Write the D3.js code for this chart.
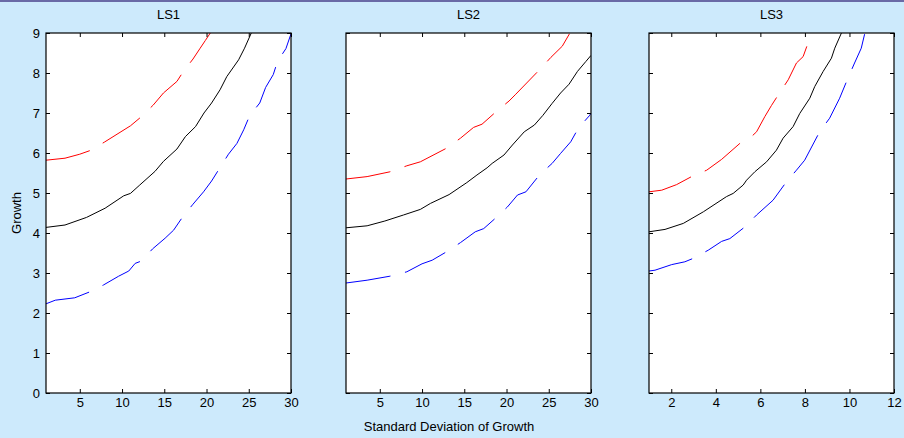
<!DOCTYPE html>
<html>
<head>
<meta charset="utf-8">
<script src="https://cdn.jsdelivr.net/npm/d3@7"></script>
<style>
  body { margin: 0; background: #cdeafc; }
  svg { display: block; font-family: "Liberation Sans", Arial, sans-serif; }
</style>
</head>
<body>
<svg id="chart" width="904" height="438"></svg>
<script>
// panel titles and x tick values
var titles = ['LS1', 'LS2', 'LS3'];
var xTicks = [[5, 10, 15, 20, 25, 30], [5, 10, 15, 20, 25, 30], [2, 4, 6, 8, 10, 12]];
var xDomains = [[1, 30], [1, 30], [1, 12]];
var yTicks = [0, 1, 2, 3, 4, 5, 6, 7, 8, 9];

// LS1: [std dev, growth]
var ls1Mid = [[1, 4.14], [3.25, 4.2], [5.8, 4.39], [8, 4.62], [10.2, 4.93], [11, 4.99], [12.1, 5.2], [13.9, 5.54], [14.9, 5.79], [16.5, 6.1], [17.5, 6.41], [18.7, 6.66], [19.7, 7.0], [20.6, 7.25], [21.6, 7.58], [22.4, 7.91], [23.8, 8.33], [24.5, 8.62], [25.3, 9.0]];
var ls1Upper = [[1, 5.82], [3.25, 5.87], [5, 5.97], [6.2, 6.06], [7.9, 6.27], [11, 6.68], [12.3, 6.91], [13.7, 7.2], [14.9, 7.5], [16.5, 7.79], [17.2, 8.02], [18.4, 8.35], [19.25, 8.62], [19.85, 8.81], [20.45, 9.0]];
var ls1Lower = [[1, 2.23], [2.1, 2.32], [4.4, 2.38], [6.2, 2.53], [7.8, 2.7], [9.6, 2.92], [10.8, 3.05], [11.55, 3.24], [12.3, 3.3], [13.6, 3.6], [15.1, 3.87], [16.1, 4.07], [17.2, 4.41], [18.4, 4.72], [19.65, 5.03], [20.6, 5.3], [21.55, 5.62], [22.6, 5.97], [23.6, 6.24], [24.4, 6.58], [25.1, 6.93], [26.3, 7.25], [27, 7.64], [27.9, 7.96], [28.4, 8.29], [29.4, 8.61], [30, 8.98]];

// LS2
var ls2Mid = [[1, 4.13], [3.5, 4.18], [5.6, 4.3], [7.8, 4.45], [9.8, 4.59], [11, 4.74], [13.2, 4.96], [15.3, 5.26], [16.5, 5.45], [17.7, 5.63], [18.3, 5.74], [19.7, 5.95], [20.7, 6.2], [22.1, 6.53], [23.3, 6.7], [24.3, 6.94], [25.4, 7.24], [26.4, 7.5], [27.4, 7.72], [28.4, 8.04], [29.4, 8.29], [30, 8.44]];
var ls2Upper = [[1, 5.35], [3.5, 5.41], [6.2, 5.53], [8.2, 5.68], [9.8, 5.78], [12.9, 6.12], [14.55, 6.37], [16.1, 6.64], [17.1, 6.72], [18.7, 7.02], [20.3, 7.3], [21.1, 7.47], [23.9, 8.08], [25.25, 8.39], [26.6, 8.67], [27.45, 8.98]];
var ls2Lower = [[1, 2.75], [3.5, 2.82], [6.2, 2.92], [8.2, 3.03], [10, 3.23], [11.2, 3.32], [12.9, 3.53], [14.55, 3.76], [16.3, 4.03], [17.3, 4.11], [18.8, 4.39], [20.1, 4.65], [21.3, 4.95], [22.3, 5.03], [23.9, 5.45], [25.4, 5.74], [26.4, 5.99], [27.6, 6.28], [28.5, 6.62], [29.8, 6.93], [30, 6.99]];

// LS3
var ls3Mid = [[1, 4.03], [1.72, 4.09], [2.54, 4.24], [3.44, 4.53], [4.48, 4.91], [4.78, 4.99], [5.23, 5.2], [5.38, 5.32], [5.75, 5.53], [6.28, 5.78], [6.72, 6.07], [7.02, 6.37], [7.47, 6.66], [7.77, 6.99], [8.22, 7.37], [8.44, 7.66], [8.82, 8.04], [9.19, 8.37], [9.34, 8.62], [9.64, 9.0]];
var ls3Upper = [[1, 5.03], [1.57, 5.07], [2.24, 5.21], [2.91, 5.41], [3.59, 5.57], [4.26, 5.84], [5.08, 6.24], [5.6, 6.41], [5.83, 6.53], [6.2, 6.91], [6.5, 7.19], [6.8, 7.45], [7.25, 7.83], [7.62, 8.25], [7.92, 8.41], [8.14, 8.75]];
var ls3Lower = [[1, 3.05], [1.27, 3.07], [2.02, 3.21], [2.61, 3.28], [2.96, 3.36], [3.66, 3.57], [4.26, 3.79], [4.63, 3.86], [5.3, 4.15], [5.83, 4.45], [6.57, 4.82], [7.17, 5.28], [7.62, 5.57], [7.99, 5.82], [8.66, 6.53], [9.11, 6.87], [9.56, 7.37], [9.93, 7.87], [10.23, 8.25], [10.53, 8.62], [10.68, 8.97]];

(function() {
  var panels = [
    { mid: ls1Mid, upper: ls1Upper, lower: ls1Lower },
    { mid: ls2Mid, upper: ls2Upper, lower: ls2Lower },
    { mid: ls3Mid, upper: ls3Upper, lower: ls3Lower }
  ];

  var svg = d3.select('#chart');
  var lefts = [46, 346, 649];
  var pw = 245, plotTop = 33, plotBottom = 393;

  // thin top frame line
  svg.append('rect').attr('x', 0).attr('y', 0).attr('width', 904).attr('height', 2).attr('fill', '#6a6aa6');

  var y = d3.scaleLinear().domain([0, 9]).range([plotBottom, plotTop]);

  panels.forEach(function(p, i) {
    var x = d3.scaleLinear().domain(xDomains[i]).range([lefts[i], lefts[i] + pw]);
    var g = svg.append('g');

    g.append('rect').attr('x', lefts[i]).attr('y', plotTop).attr('width', pw).attr('height', plotBottom - plotTop).attr('fill', '#fff');

    g.append('clipPath').attr('id', 'clip' + i).append('rect')
      .attr('x', lefts[i]).attr('y', plotTop).attr('width', pw).attr('height', plotBottom - plotTop);

    var line = d3.line().x(function(d) { return x(d[0]); }).y(function(d) { return y(d[1]); });
    var lines = g.append('g').attr('clip-path', 'url(#clip' + i + ')').attr('fill', 'none').attr('stroke-width', 1);
    lines.append('path').attr('d', line(p.upper)).attr('stroke', '#ff0000').attr('stroke-dasharray', '45,15');
    lines.append('path').attr('d', line(p.lower)).attr('stroke', '#0000ff').attr('stroke-dasharray', '45,15');
    lines.append('path').attr('d', line(p.mid)).attr('stroke', '#000');

    // axes with inward ticks on all four sides
    g.append('g').attr('transform', 'translate(0,' + plotBottom + ')')
      .call(d3.axisBottom(x).tickValues(xTicks[i]).tickSizeInner(-4).tickSizeOuter(0).tickPadding(5));
    g.append('g').attr('transform', 'translate(0,' + plotTop + ')')
      .call(d3.axisTop(x).tickValues(xTicks[i]).tickSizeInner(-4).tickSizeOuter(0).tickFormat(''));
    g.append('g').attr('transform', 'translate(' + lefts[i] + ',0)')
      .call(d3.axisLeft(y).tickValues(yTicks).tickSizeInner(-4).tickSizeOuter(0).tickPadding(6)
        .tickFormat(i === 0 ? d3.format('d') : ''));
    g.append('g').attr('transform', 'translate(' + (lefts[i] + pw) + ',0)')
      .call(d3.axisRight(y).tickValues(yTicks).tickSizeInner(-4).tickSizeOuter(0).tickFormat(''));
    g.selectAll('.domain').remove();
    g.selectAll('.tick text').attr('font-size', 13).attr('fill', '#000').attr('font-family', '"Liberation Sans", Arial, sans-serif');
    g.selectAll('.tick line').attr('stroke', '#000');

    g.append('rect').attr('x', lefts[i]).attr('y', plotTop).attr('width', pw).attr('height', plotBottom - plotTop)
      .attr('fill', 'none').attr('stroke', '#000').attr('stroke-width', 1.2);

    g.append('text').attr('x', lefts[i] + pw / 2).attr('y', 19).attr('text-anchor', 'middle')
      .attr('font-size', 13).text(titles[i]);
  });

  svg.append('text').attr('x', 449).attr('y', 431).attr('text-anchor', 'middle').attr('font-size', 13)
    .text('Standard Deviation of Growth');
  svg.append('text').attr('transform', 'translate(21,213) rotate(-90)').attr('text-anchor', 'middle').attr('font-size', 13)
    .text('Growth');
})();
</script>
</body>
</html>
